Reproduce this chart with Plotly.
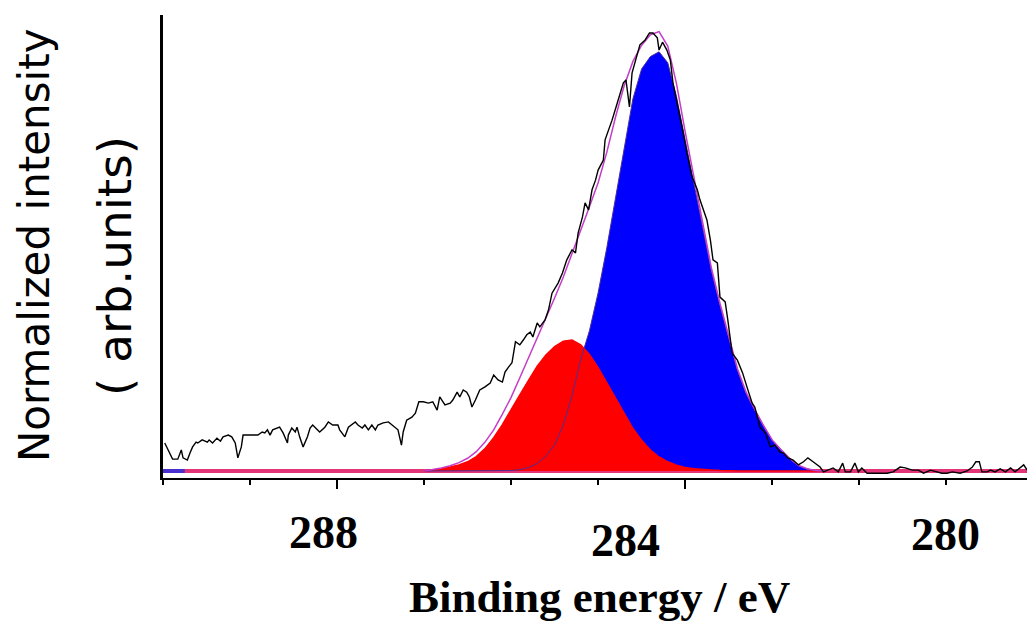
import plotly.graph_objects as go

# ---------------- data ----------------
# measured C1s spectrum (binding energy in eV, normalized intensity)
meas_e = [289.98, 289.92, 289.89, 289.83, 289.79, 289.77, 289.72, 289.69, 289.66, 289.62,
          289.60, 289.55, 289.49, 289.47, 289.43, 289.38, 289.34, 289.31, 289.25, 289.21,
          289.17, 289.14, 289.10, 289.08, 288.98, 288.91, 288.86, 288.83, 288.80, 288.77,
          288.74, 288.69, 288.66, 288.62, 288.57, 288.56, 288.52, 288.48, 288.46, 288.43,
          288.39, 288.34, 288.31, 288.28, 288.23, 288.20, 288.14, 288.10, 288.05, 287.99,
          287.97, 287.91, 287.87, 287.83, 287.79, 287.76, 287.71, 287.68, 287.64, 287.60,
          287.56, 287.53, 287.47, 287.41, 287.37, 287.33, 287.30, 287.26, 287.24, 287.20,
          287.14, 287.10, 287.06, 287.01, 286.95, 286.90, 286.85, 286.82, 286.76, 286.70,
          286.67, 286.62, 286.59, 286.55, 286.51, 286.48, 286.45, 286.41, 286.36, 286.30,
          286.24, 286.20, 286.15, 286.10, 286.07, 286.03, 285.99, 285.95, 285.90, 285.86,
          285.82, 285.78, 285.75, 285.70, 285.67, 285.61, 285.57, 285.53, 285.49, 285.46,
          285.41, 285.36, 285.30, 285.26, 285.23, 285.18, 285.15, 285.11, 285.07, 285.03,
          285.00, 284.94, 284.92, 284.84, 284.78, 284.71, 284.68, 284.64, 284.61, 284.55,
          284.52, 284.46, 284.41, 284.37, 284.32, 284.30, 284.26, 284.21, 284.17, 284.14,
          284.09, 284.03, 283.98, 283.92, 283.86, 283.83, 283.75, 283.71, 283.68, 283.63,
          283.60, 283.54, 283.51, 283.46, 283.40, 283.34, 283.29, 283.23, 283.20, 283.14,
          283.08, 283.02, 282.97, 282.91, 282.87, 282.82, 282.76, 282.70, 282.64, 282.59,
          282.53, 282.45, 282.41, 282.36, 282.30, 282.24, 282.19, 282.16, 282.10, 282.05,
          282.01, 281.97, 281.91, 281.79, 281.68, 281.61, 281.53, 281.47, 281.39, 281.32,
          281.26, 281.18, 281.10, 281.05, 280.99, 280.93, 280.84, 280.76, 280.70, 280.66,
          280.62, 280.59, 280.53, 280.49, 280.44, 280.38, 280.32, 280.26, 280.21, 280.15,
          280.11, 280.07, 280.03, 280.01, 279.98]
meas_v = [0.064, 0.041, 0.027, 0.027, 0.048, 0.030, 0.025, 0.041, 0.055, 0.066,
          0.064, 0.071, 0.066, 0.071, 0.064, 0.075, 0.068, 0.078, 0.082, 0.078,
          0.064, 0.030, 0.055, 0.082, 0.082, 0.082, 0.089, 0.087, 0.094, 0.082,
          0.094, 0.098, 0.100, 0.087, 0.064, 0.082, 0.098, 0.089, 0.100, 0.078,
          0.055, 0.078, 0.098, 0.105, 0.094, 0.089, 0.100, 0.112, 0.105, 0.105,
          0.094, 0.078, 0.100, 0.105, 0.112, 0.105, 0.098, 0.105, 0.094, 0.105,
          0.094, 0.105, 0.110, 0.112, 0.105, 0.098, 0.094, 0.059, 0.089, 0.116,
          0.123, 0.132, 0.158, 0.158, 0.155, 0.158, 0.139, 0.169, 0.151, 0.155,
          0.162, 0.180, 0.169, 0.185, 0.180, 0.169, 0.146, 0.162, 0.185, 0.192,
          0.201, 0.219, 0.208, 0.203, 0.226, 0.237, 0.247, 0.295, 0.288, 0.299,
          0.311, 0.317, 0.306, 0.338, 0.329, 0.345, 0.368, 0.406, 0.420, 0.429,
          0.452, 0.482, 0.505, 0.498, 0.543, 0.580, 0.612, 0.596, 0.642, 0.664,
          0.687, 0.710, 0.756, 0.801, 0.840, 0.886, 0.893, 0.831, 0.909, 0.954,
          0.973, 0.984, 1.000, 1.000, 0.989, 0.961, 0.979, 0.961, 0.938, 0.886,
          0.840, 0.779, 0.726, 0.671, 0.642, 0.619, 0.573, 0.527, 0.482, 0.475,
          0.397, 0.386, 0.345, 0.269, 0.253, 0.224, 0.192, 0.155, 0.146, 0.100,
          0.087, 0.055, 0.059, 0.043, 0.041, 0.030, 0.025, 0.014, 0.021, 0.030,
          0.021, 0.009, -0.002, 0.002, 0.007, -0.002, 0.018, -0.002, -0.002, 0.018,
          -0.002, 0.007, -0.005, -0.005, -0.005, -0.002, 0.009, 0.007, 0.002, 0.002,
          -0.005, 0.002, -0.002, -0.005, -0.005, -0.002, -0.005, 0.000, 0.009, 0.021,
          0.021, -0.002, -0.002, 0.002, -0.002, 0.005, -0.002, 0.007, -0.002, 0.007,
          0.014, 0.002, 0.025, 0.002, 0.009]

# fitted components on a common energy grid
comp_e = [287.0, 286.9, 286.8, 286.7, 286.6, 286.5, 286.4, 286.3, 286.2, 286.1,
          286.0, 285.9, 285.8, 285.7, 285.6, 285.5, 285.4, 285.3, 285.2, 285.1,
          285.0, 284.9, 284.8, 284.7, 284.6, 284.5, 284.4, 284.3, 284.2, 284.1,
          284.0, 283.9, 283.8, 283.7, 283.6, 283.5, 283.4, 283.3, 283.2, 283.1,
          283.0, 282.9, 282.8, 282.7, 282.6, 282.5, 282.4]
# C-O component (red)
red_v = [0.000, 0.002, 0.005, 0.009, 0.014, 0.021, 0.033, 0.051, 0.076, 0.106,
         0.141, 0.174, 0.207, 0.239, 0.265, 0.284, 0.296, 0.299, 0.288, 0.266,
         0.236, 0.201, 0.165, 0.130, 0.097, 0.070, 0.048, 0.032, 0.021, 0.013,
         0.008, 0.005, 0.003, 0.002, 0.001, 0.000, 0.000, 0.000, 0.000, 0.000,
         0.000, 0.000, 0.000, 0.000, 0.000, 0.000, 0.000]
# C-C component (blue)
blue_v = [0.000, 0.000, 0.000, 0.000, 0.000, 0.000, 0.000, 0.000, 0.000, 0.000,
          0.001, 0.003, 0.008, 0.017, 0.034, 0.060, 0.105, 0.172, 0.255, 0.320,
          0.407, 0.510, 0.625, 0.745, 0.850, 0.918, 0.946, 0.957, 0.932, 0.855,
          0.757, 0.660, 0.561, 0.459, 0.379, 0.307, 0.231, 0.178, 0.139, 0.103,
          0.070, 0.048, 0.028, 0.012, 0.005, 0.001, 0.000]
# fit envelope (magenta)
env_v = [0.000, 0.003, 0.007, 0.012, 0.019, 0.029, 0.044, 0.066, 0.094, 0.130,
         0.168, 0.213, 0.258, 0.303, 0.350, 0.395, 0.443, 0.495, 0.548, 0.603,
         0.658, 0.728, 0.808, 0.880, 0.935, 0.972, 0.996, 1.003, 0.970, 0.885,
         0.775, 0.672, 0.570, 0.465, 0.383, 0.310, 0.234, 0.180, 0.140, 0.104,
         0.071, 0.049, 0.029, 0.013, 0.005, 0.001, 0.000]

# baseline
base_e = [290.0, 280.0]
base_v = [0.0, 0.0]

tick_labels = ["288", "284", "280"]
tick_label_pos = [288.16, 284.68, 281.01]   # where the labels sit in the picture
tick_label_y = [-0.117, -0.134, -0.123]

# ---------------- figure ----------------
fig = go.Figure()

fig.add_trace(go.Scatter(x=base_e, y=base_v, mode="lines",
                         line=dict(color="#e3347a", width=4), hoverinfo="skip"))
fig.add_trace(go.Scatter(x=[290.0, 289.75], y=[0.0, 0.0], mode="lines",
                         line=dict(color="#4a2fd0", width=4), hoverinfo="skip"))
fig.add_trace(go.Scatter(x=comp_e, y=blue_v, mode="lines", fill="tozeroy",
                         fillcolor="#0000ff", line=dict(color="#0000ff", width=0)))
fig.add_trace(go.Scatter(x=comp_e, y=red_v, mode="lines", fill="tozeroy",
                         fillcolor="#ff0000", line=dict(color="#ff0000", width=1.5)))
fig.add_trace(go.Scatter(x=comp_e, y=blue_v, mode="lines",
                         line=dict(color="#4b2f96", width=1)))
fig.add_trace(go.Scatter(x=comp_e, y=env_v, mode="lines",
                         line=dict(color="#c53cc8", width=1.5)))
fig.add_trace(go.Scatter(x=meas_e, y=meas_v, mode="lines",
                         line=dict(color="black", width=1.4)))

annotations = []
for lab, xp, yp in zip(tick_labels, tick_label_pos, tick_label_y):
    annotations.append(dict(text=lab, x=xp, xref="x", y=yp, yref="paper",
                            xanchor="center", yanchor="middle", showarrow=False,
                            font=dict(family="Liberation Serif", size=46, color="black",
                                      weight="bold")))
annotations.append(dict(text="Binding energy / eV", x=0.501, xref="paper", y=-0.256,
                        yref="paper", xanchor="center", yanchor="middle", showarrow=False,
                        font=dict(family="Liberation Serif", size=45, color="black",
                                  weight="bold")))
annotations.append(dict(text="Normalized intensity", x=-0.148, xref="paper", y=0.503,
                        yref="paper", xanchor="center", yanchor="middle", showarrow=False,
                        textangle=-90,
                        font=dict(family="DejaVu Sans", size=42, color="black")))
annotations.append(dict(text="( arb.units)", x=-0.055, xref="paper", y=0.458,
                        yref="paper", xanchor="center", yanchor="middle", showarrow=False,
                        textangle=-90,
                        font=dict(family="DejaVu Sans", size=47, color="black")))

# the page body has an 8 px margin, so the figure is sized to the remaining window
fig.update_layout(
    width=1027, height=617,
    margin=dict(l=155, r=0, t=7, b=147),
    paper_bgcolor="white", plot_bgcolor="white",
    showlegend=False,
    annotations=annotations,
    xaxis=dict(range=[290, 279.98], showgrid=False, zeroline=False,
               showline=True, linecolor="black", linewidth=2,
               ticks="outside", tick0=280, dtick=4, ticklen=9, tickwidth=2,
               tickcolor="black", showticklabels=False,
               minor=dict(dtick=1, ticks="outside", ticklen=5, tickwidth=2,
                          tickcolor="black", showgrid=False)),
    yaxis=dict(range=[-0.016, 1.041], showgrid=False, zeroline=False,
               showline=True, linecolor="black", linewidth=3,
               ticks="", showticklabels=False),
)

fig.write_html("out.html")
